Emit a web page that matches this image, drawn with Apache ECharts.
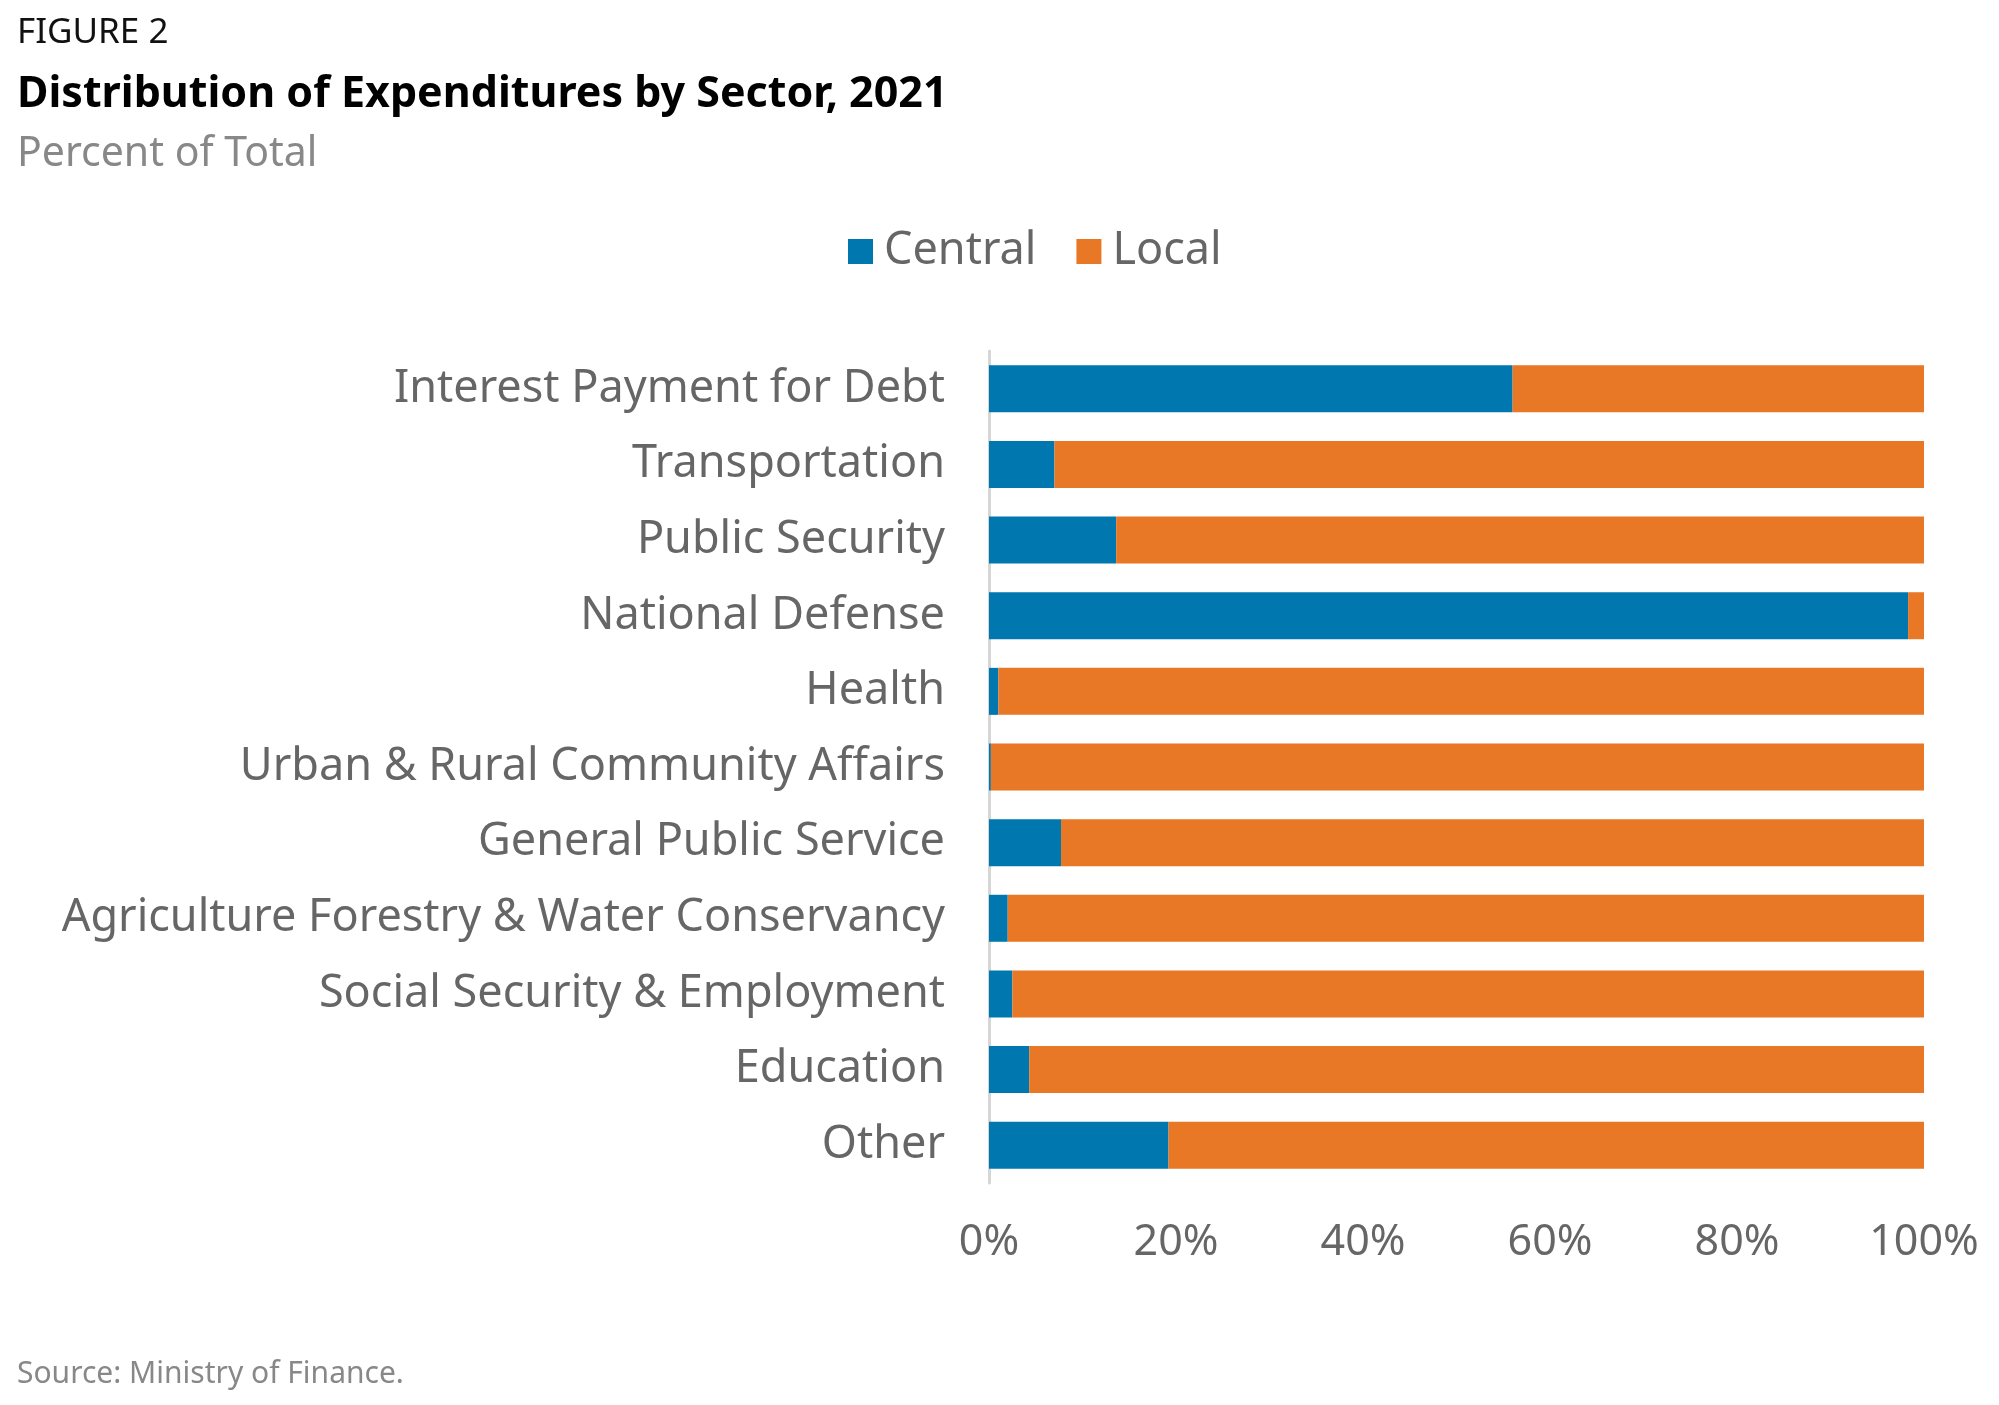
<!DOCTYPE html>
<html><head><meta charset="utf-8">
<script src="https://cdn.jsdelivr.net/npm/echarts@6/dist/echarts.min.js"></script>
<style>html,body{margin:0;padding:0;background:#fff}#c{width:1999px;height:1405px}</style>
</head><body><div id="c"></div>
<script>
const categories = ["Interest Payment for Debt","Transportation","Public Security","National Defense","Health","Urban & Rural Community Affairs","General Public Service","Agriculture Forestry & Water Conservancy","Social Security & Employment","Education","Other"];
const central = [56.0, 7.0, 13.6, 98.3, 1.0, 0.2, 7.7, 2.0, 2.5, 4.3, 19.2];
const local = [44.0, 93.0, 86.4, 1.7, 99.0, 99.8, 92.3, 98.0, 97.5, 95.7, 80.8];
const xTicks = [0, 20, 40, 60, 80, 100];

const FONT = '"Noto Sans", "Open Sans", sans-serif';
const chart = echarts.init(document.getElementById('c'), null, {renderer: 'canvas'});
chart.setOption({
  backgroundColor: '#fff',
  animation: false,
  title: [
    {text: 'FIGURE 2', left: 12, top: 11, textStyle: {fontFamily: FONT, fontSize: 35, fontWeight: 'normal', color: '#111'}},
    {text: 'Distribution of Expenditures by Sector, 2021', left: 12, top: 68, textStyle: {fontFamily: FONT, fontSize: 43, fontWeight: 'bold', color: '#000'}},
    {text: 'Percent of Total', left: 12, top: 129, textStyle: {fontFamily: FONT, fontSize: 41, fontWeight: 'normal', color: '#888'}},
    {text: 'Source: Ministry of Finance.', left: 12, top: 1354, textStyle: {fontFamily: FONT, fontSize: 30, fontWeight: 'normal', color: '#888'}}
  ],
  legend: {
    data: ['Central', 'Local'],
    top: 224, left: 843,
    itemWidth: 25, itemHeight: 25, itemGap: 40,
    icon: 'rect',
    textStyle: {fontFamily: FONT, fontSize: 45, color: '#666', padding: [0, 0, 0, 6]}
  },
  grid: {left: 989, right: 75, top: 351, bottom: 222, containLabel: false},
  xAxis: {
    type: 'value', min: 0, max: 100, interval: 20,
    axisLine: {show: false}, axisTick: {show: false}, splitLine: {show: false},
    axisLabel: {formatter: v => xTicks.includes(v) ? v + '%' : '', fontFamily: FONT, fontSize: 43, color: '#666', margin: 38}
  },
  yAxis: {
    type: 'category', data: categories, inverse: true,
    axisLine: {show: true, lineStyle: {color: '#d6d6d6', width: 3}},
    axisTick: {show: false},
    axisLabel: {fontFamily: FONT, fontSize: 45, color: '#666', margin: 44}
  },
  series: [
    {name: 'Central', type: 'bar', stack: 'a', data: central, barWidth: 47, itemStyle: {color: '#0077AE'}},
    {name: 'Local', type: 'bar', stack: 'a', data: local, barWidth: 47, itemStyle: {color: '#E87726'}}
  ]
});
</script></body></html>
